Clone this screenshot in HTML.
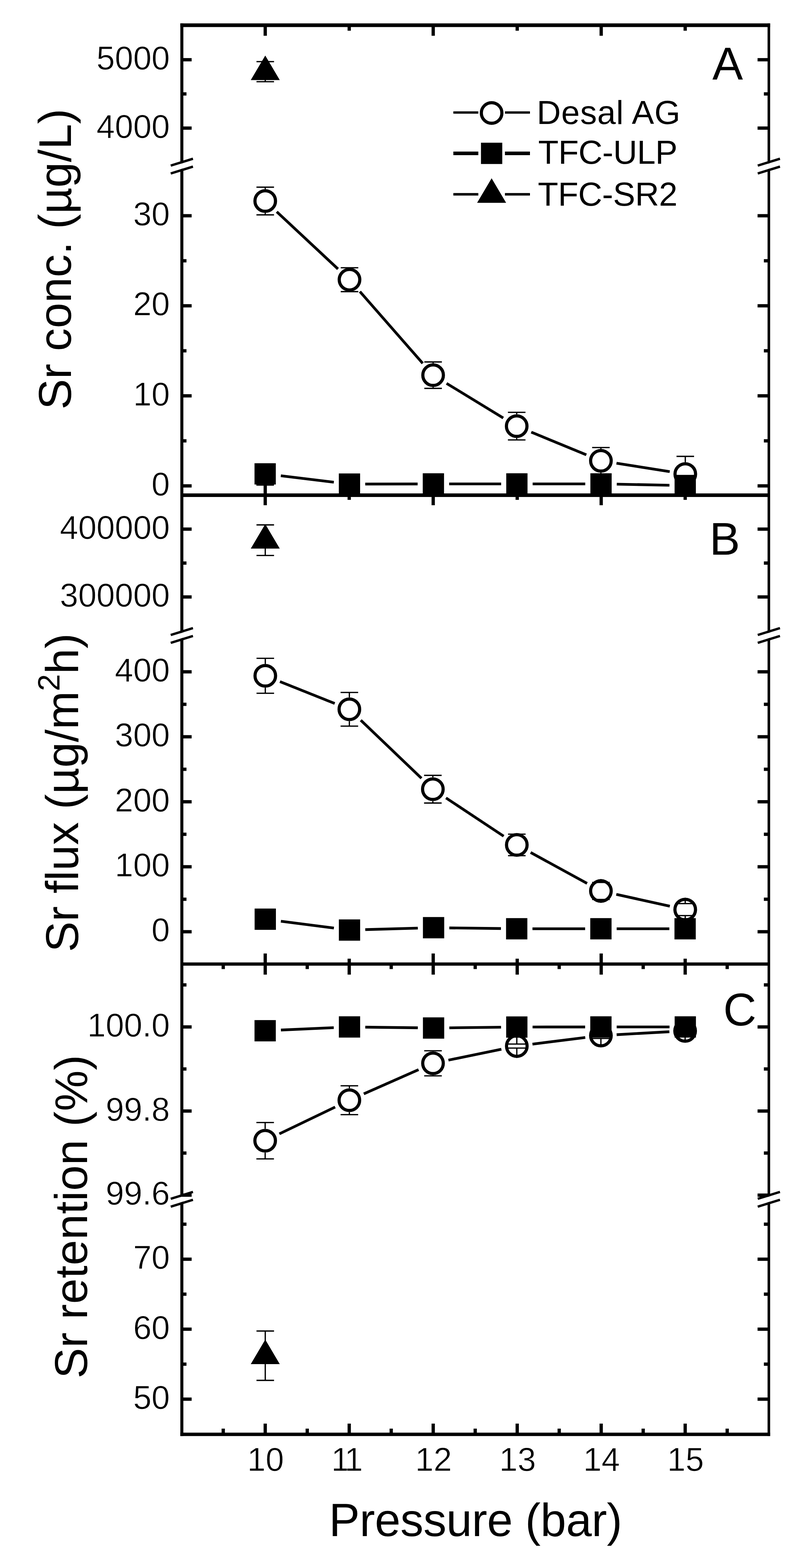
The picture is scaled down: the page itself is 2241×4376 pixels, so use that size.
<!DOCTYPE html>
<html><head><meta charset="utf-8"><title>Sr vs Pressure</title>
<style>html,body{margin:0;padding:0;background:#fff;} svg{display:block;}</style>
</head><body>
<svg width="2241" height="4376" viewBox="0 0 2241 4376">
<rect width="2241" height="4376" fill="#fff"/>
<g stroke="#000" fill="none" stroke-linecap="butt">
<line x1="507.5" y1="65.2" x2="507.5" y2="4007.7" stroke-width="8.4"/>
<line x1="2145.7" y1="65.2" x2="2145.7" y2="4007.7" stroke-width="7.2"/>
<line x1="503.3" y1="70.3" x2="2149.3" y2="70.3" stroke-width="10.2"/>
<line x1="507.5" y1="1382.0" x2="2145.7" y2="1382.0" stroke-width="10.0"/>
<line x1="507.5" y1="2690.5" x2="2145.7" y2="2690.5" stroke-width="9.2"/>
<line x1="503.3" y1="4003.0" x2="2149.3" y2="4003.0" stroke-width="9.4"/>
<line x1="507.5" y1="357.5" x2="534.8" y2="357.5" stroke-width="9.2"/>
<line x1="2145.7" y1="357.5" x2="2114.2" y2="357.5" stroke-width="9.2"/>
<line x1="507.5" y1="166.7" x2="534.8" y2="166.7" stroke-width="9.2"/>
<line x1="2145.7" y1="166.7" x2="2114.2" y2="166.7" stroke-width="9.2"/>
<line x1="507.5" y1="262.1" x2="520.4" y2="262.1" stroke-width="9.2"/>
<line x1="2145.7" y1="262.1" x2="2131.8" y2="262.1" stroke-width="9.2"/>
<line x1="507.5" y1="1356.0" x2="534.8" y2="1356.0" stroke-width="9.2"/>
<line x1="2145.7" y1="1356.0" x2="2114.2" y2="1356.0" stroke-width="9.2"/>
<line x1="507.5" y1="1104.7" x2="534.8" y2="1104.7" stroke-width="9.2"/>
<line x1="2145.7" y1="1104.7" x2="2114.2" y2="1104.7" stroke-width="9.2"/>
<line x1="507.5" y1="853.4" x2="534.8" y2="853.4" stroke-width="9.2"/>
<line x1="2145.7" y1="853.4" x2="2114.2" y2="853.4" stroke-width="9.2"/>
<line x1="507.5" y1="602.1" x2="534.8" y2="602.1" stroke-width="9.2"/>
<line x1="2145.7" y1="602.1" x2="2114.2" y2="602.1" stroke-width="9.2"/>
<line x1="507.5" y1="1230.3" x2="520.4" y2="1230.3" stroke-width="9.2"/>
<line x1="2145.7" y1="1230.3" x2="2131.8" y2="1230.3" stroke-width="9.2"/>
<line x1="507.5" y1="979.0" x2="520.4" y2="979.0" stroke-width="9.2"/>
<line x1="2145.7" y1="979.0" x2="2131.8" y2="979.0" stroke-width="9.2"/>
<line x1="507.5" y1="727.8" x2="520.4" y2="727.8" stroke-width="9.2"/>
<line x1="2145.7" y1="727.8" x2="2131.8" y2="727.8" stroke-width="9.2"/>
<line x1="507.5" y1="1666.0" x2="534.8" y2="1666.0" stroke-width="9.2"/>
<line x1="2145.7" y1="1666.0" x2="2114.2" y2="1666.0" stroke-width="9.2"/>
<line x1="507.5" y1="1476.7" x2="534.8" y2="1476.7" stroke-width="9.2"/>
<line x1="2145.7" y1="1476.7" x2="2114.2" y2="1476.7" stroke-width="9.2"/>
<line x1="507.5" y1="1571.4" x2="520.4" y2="1571.4" stroke-width="9.2"/>
<line x1="2145.7" y1="1571.4" x2="2131.8" y2="1571.4" stroke-width="9.2"/>
<line x1="507.5" y1="2600.3" x2="534.8" y2="2600.3" stroke-width="9.2"/>
<line x1="2145.7" y1="2600.3" x2="2114.2" y2="2600.3" stroke-width="9.2"/>
<line x1="507.5" y1="2419.0" x2="534.8" y2="2419.0" stroke-width="9.2"/>
<line x1="2145.7" y1="2419.0" x2="2114.2" y2="2419.0" stroke-width="9.2"/>
<line x1="507.5" y1="2237.6" x2="534.8" y2="2237.6" stroke-width="9.2"/>
<line x1="2145.7" y1="2237.6" x2="2114.2" y2="2237.6" stroke-width="9.2"/>
<line x1="507.5" y1="2056.2" x2="534.8" y2="2056.2" stroke-width="9.2"/>
<line x1="2145.7" y1="2056.2" x2="2114.2" y2="2056.2" stroke-width="9.2"/>
<line x1="507.5" y1="1874.9" x2="534.8" y2="1874.9" stroke-width="9.2"/>
<line x1="2145.7" y1="1874.9" x2="2114.2" y2="1874.9" stroke-width="9.2"/>
<line x1="507.5" y1="2509.6" x2="520.4" y2="2509.6" stroke-width="9.2"/>
<line x1="2145.7" y1="2509.6" x2="2131.8" y2="2509.6" stroke-width="9.2"/>
<line x1="507.5" y1="2328.3" x2="520.4" y2="2328.3" stroke-width="9.2"/>
<line x1="2145.7" y1="2328.3" x2="2131.8" y2="2328.3" stroke-width="9.2"/>
<line x1="507.5" y1="2146.9" x2="520.4" y2="2146.9" stroke-width="9.2"/>
<line x1="2145.7" y1="2146.9" x2="2131.8" y2="2146.9" stroke-width="9.2"/>
<line x1="507.5" y1="1965.6" x2="520.4" y2="1965.6" stroke-width="9.2"/>
<line x1="2145.7" y1="1965.6" x2="2131.8" y2="1965.6" stroke-width="9.2"/>
<line x1="507.5" y1="3100.7" x2="534.8" y2="3100.7" stroke-width="9.2"/>
<line x1="2145.7" y1="3100.7" x2="2114.2" y2="3100.7" stroke-width="9.2"/>
<line x1="507.5" y1="2866.0" x2="534.8" y2="2866.0" stroke-width="9.2"/>
<line x1="2145.7" y1="2866.0" x2="2114.2" y2="2866.0" stroke-width="9.2"/>
<line x1="507.5" y1="3218.0" x2="520.4" y2="3218.0" stroke-width="9.2"/>
<line x1="2145.7" y1="3218.0" x2="2131.8" y2="3218.0" stroke-width="9.2"/>
<line x1="507.5" y1="2983.3" x2="520.4" y2="2983.3" stroke-width="9.2"/>
<line x1="2145.7" y1="2983.3" x2="2131.8" y2="2983.3" stroke-width="9.2"/>
<line x1="507.5" y1="2748.7" x2="520.4" y2="2748.7" stroke-width="9.2"/>
<line x1="2145.7" y1="2748.7" x2="2131.8" y2="2748.7" stroke-width="9.2"/>
<line x1="507.5" y1="3904.8" x2="534.8" y2="3904.8" stroke-width="9.2"/>
<line x1="2145.7" y1="3904.8" x2="2114.2" y2="3904.8" stroke-width="9.2"/>
<line x1="507.5" y1="3709.5" x2="534.8" y2="3709.5" stroke-width="9.2"/>
<line x1="2145.7" y1="3709.5" x2="2114.2" y2="3709.5" stroke-width="9.2"/>
<line x1="507.5" y1="3514.2" x2="534.8" y2="3514.2" stroke-width="9.2"/>
<line x1="2145.7" y1="3514.2" x2="2114.2" y2="3514.2" stroke-width="9.2"/>
<line x1="507.5" y1="3807.1" x2="520.4" y2="3807.1" stroke-width="9.2"/>
<line x1="2145.7" y1="3807.1" x2="2131.8" y2="3807.1" stroke-width="9.2"/>
<line x1="507.5" y1="3611.8" x2="520.4" y2="3611.8" stroke-width="9.2"/>
<line x1="2145.7" y1="3611.8" x2="2131.8" y2="3611.8" stroke-width="9.2"/>
<line x1="507.5" y1="3416.5" x2="520.4" y2="3416.5" stroke-width="9.2"/>
<line x1="2145.7" y1="3416.5" x2="2131.8" y2="3416.5" stroke-width="9.2"/>
<line x1="740.2" y1="70.3" x2="740.2" y2="99.8" stroke-width="9.2"/>
<line x1="1209.0" y1="70.3" x2="1209.0" y2="99.8" stroke-width="9.2"/>
<line x1="1677.8" y1="70.3" x2="1677.8" y2="99.8" stroke-width="9.2"/>
<line x1="974.6" y1="70.3" x2="974.6" y2="85.7" stroke-width="9.2"/>
<line x1="1443.4" y1="70.3" x2="1443.4" y2="85.7" stroke-width="9.2"/>
<line x1="1912.2" y1="70.3" x2="1912.2" y2="85.7" stroke-width="9.2"/>
<line x1="740.2" y1="1354.0" x2="740.2" y2="1410.0" stroke-width="9.2"/>
<line x1="1209.0" y1="1354.0" x2="1209.0" y2="1410.0" stroke-width="9.2"/>
<line x1="1677.8" y1="1354.0" x2="1677.8" y2="1410.0" stroke-width="9.2"/>
<line x1="974.6" y1="1382.0" x2="974.6" y2="1395.0" stroke-width="9.2"/>
<line x1="1443.4" y1="1382.0" x2="1443.4" y2="1395.0" stroke-width="9.2"/>
<line x1="1912.2" y1="1382.0" x2="1912.2" y2="1395.0" stroke-width="9.2"/>
<line x1="740.2" y1="2690.5" x2="740.2" y2="2661.0" stroke-width="9.2"/>
<line x1="1209.0" y1="2690.5" x2="1209.0" y2="2661.0" stroke-width="9.2"/>
<line x1="1677.8" y1="2690.5" x2="1677.8" y2="2661.0" stroke-width="9.2"/>
<line x1="974.6" y1="2690.5" x2="974.6" y2="2675.5" stroke-width="9.2"/>
<line x1="1443.4" y1="2690.5" x2="1443.4" y2="2675.5" stroke-width="9.2"/>
<line x1="1912.2" y1="2690.5" x2="1912.2" y2="2675.5" stroke-width="9.2"/>
<line x1="740.2" y1="2690.5" x2="740.2" y2="2720.0" stroke-width="9.2"/>
<line x1="974.6" y1="2690.5" x2="974.6" y2="2720.0" stroke-width="9.2"/>
<line x1="1209.0" y1="2690.5" x2="1209.0" y2="2720.0" stroke-width="9.2"/>
<line x1="1443.4" y1="2690.5" x2="1443.4" y2="2720.0" stroke-width="9.2"/>
<line x1="1677.8" y1="2690.5" x2="1677.8" y2="2720.0" stroke-width="9.2"/>
<line x1="1912.2" y1="2690.5" x2="1912.2" y2="2720.0" stroke-width="9.2"/>
<line x1="623.0" y1="2690.5" x2="623.0" y2="2704.5" stroke-width="9.2"/>
<line x1="857.4" y1="2690.5" x2="857.4" y2="2704.5" stroke-width="9.2"/>
<line x1="1091.8" y1="2690.5" x2="1091.8" y2="2704.5" stroke-width="9.2"/>
<line x1="1326.2" y1="2690.5" x2="1326.2" y2="2704.5" stroke-width="9.2"/>
<line x1="1560.6" y1="2690.5" x2="1560.6" y2="2704.5" stroke-width="9.2"/>
<line x1="1795.0" y1="2690.5" x2="1795.0" y2="2704.5" stroke-width="9.2"/>
<line x1="2029.4" y1="2690.5" x2="2029.4" y2="2704.5" stroke-width="9.2"/>
<line x1="740.2" y1="4003.0" x2="740.2" y2="3973.0" stroke-width="9.2"/>
<line x1="974.6" y1="4003.0" x2="974.6" y2="3973.0" stroke-width="9.2"/>
<line x1="1209.0" y1="4003.0" x2="1209.0" y2="3973.0" stroke-width="9.2"/>
<line x1="1443.4" y1="4003.0" x2="1443.4" y2="3973.0" stroke-width="9.2"/>
<line x1="1677.8" y1="4003.0" x2="1677.8" y2="3973.0" stroke-width="9.2"/>
<line x1="1912.2" y1="4003.0" x2="1912.2" y2="3973.0" stroke-width="9.2"/>
<line x1="623.0" y1="4003.0" x2="623.0" y2="3987.0" stroke-width="9.2"/>
<line x1="857.4" y1="4003.0" x2="857.4" y2="3987.0" stroke-width="9.2"/>
<line x1="1091.8" y1="4003.0" x2="1091.8" y2="3987.0" stroke-width="9.2"/>
<line x1="1326.2" y1="4003.0" x2="1326.2" y2="3987.0" stroke-width="9.2"/>
<line x1="1560.6" y1="4003.0" x2="1560.6" y2="3987.0" stroke-width="9.2"/>
<line x1="1795.0" y1="4003.0" x2="1795.0" y2="3987.0" stroke-width="9.2"/>
<line x1="2029.4" y1="4003.0" x2="2029.4" y2="3987.0" stroke-width="9.2"/>
</g>
<g stroke="#000">
<polygon fill="#fff" stroke="none" points="480.5,464.5 534.5,447.7 534.5,462.7 480.5,479.5"/>
<line x1="476.5" y1="462.2" x2="538.5" y2="443.0" stroke="#000" stroke-width="6.6"/>
<line x1="476.5" y1="484.2" x2="538.5" y2="465.0" stroke="#000" stroke-width="6.6"/>
<polygon fill="#fff" stroke="none" points="2118.7,464.5 2172.7,447.7 2172.7,462.7 2118.7,479.5"/>
<line x1="2114.7" y1="462.2" x2="2176.7" y2="443.0" stroke="#000" stroke-width="6.6"/>
<line x1="2114.7" y1="484.2" x2="2176.7" y2="465.0" stroke="#000" stroke-width="6.6"/>
<polygon fill="#fff" stroke="none" points="480.5,1774.4 534.5,1757.6 534.5,1772.6 480.5,1789.4"/>
<line x1="476.5" y1="1772.1" x2="538.5" y2="1752.9" stroke="#000" stroke-width="6.6"/>
<line x1="476.5" y1="1794.1" x2="538.5" y2="1774.9" stroke="#000" stroke-width="6.6"/>
<polygon fill="#fff" stroke="none" points="2118.7,1774.4 2172.7,1757.6 2172.7,1772.6 2118.7,1789.4"/>
<line x1="2114.7" y1="1772.1" x2="2176.7" y2="1752.9" stroke="#000" stroke-width="6.6"/>
<line x1="2114.7" y1="1794.1" x2="2176.7" y2="1774.9" stroke="#000" stroke-width="6.6"/>
<polygon fill="#fff" stroke="none" points="480.5,3347.9 534.5,3331.1 534.5,3346.1 480.5,3362.9"/>
<line x1="476.5" y1="3345.6" x2="538.5" y2="3326.4" stroke="#000" stroke-width="6.6"/>
<line x1="476.5" y1="3367.6" x2="538.5" y2="3348.4" stroke="#000" stroke-width="6.6"/>
<polygon fill="#fff" stroke="none" points="2118.7,3347.9 2172.7,3331.1 2172.7,3346.1 2118.7,3362.9"/>
<line x1="2114.7" y1="3345.6" x2="2176.7" y2="3326.4" stroke="#000" stroke-width="6.6"/>
<line x1="2114.7" y1="3367.6" x2="2176.7" y2="3348.4" stroke="#000" stroke-width="6.6"/>
</g>
<g stroke="#000" stroke-width="9.2">
<line x1="507.5" y1="3335.4" x2="534.8" y2="3335.4"/>
<line x1="2145.7" y1="3335.4" x2="2114.2" y2="3335.4"/>
</g>
<g stroke="#000" fill="none">
<line x1="772.4" y1="591.0" x2="943.2" y2="750.6" stroke-width="7.6"/>
<line x1="1004.4" y1="813.7" x2="1179.7" y2="1013.9" stroke-width="7.6"/>
<line x1="1246.3" y1="1069.9" x2="1404.4" y2="1166.4" stroke-width="7.6"/>
<line x1="1482.7" y1="1206.0" x2="1636.3" y2="1269.3" stroke-width="7.6"/>
<line x1="1720.5" y1="1292.8" x2="1869.0" y2="1316.2" stroke-width="7.6"/>
<line x1="783.7" y1="1327.8" x2="931.6" y2="1345.7" stroke-width="7.6"/>
<line x1="1019.3" y1="1350.9" x2="1165.5" y2="1350.6" stroke-width="7.6"/>
<line x1="1253.5" y1="1350.5" x2="1398.5" y2="1350.5" stroke-width="7.6"/>
<line x1="1486.5" y1="1350.5" x2="1633.3" y2="1350.5" stroke-width="7.6"/>
<line x1="1721.3" y1="1351.3" x2="1868.3" y2="1354.2" stroke-width="7.6"/>
<line x1="781.3" y1="1902.3" x2="934.1" y2="1963.2" stroke-width="7.6"/>
<line x1="1006.8" y1="2009.9" x2="1176.2" y2="2172.1" stroke-width="7.6"/>
<line x1="1244.7" y1="2226.8" x2="1405.6" y2="2333.7" stroke-width="7.6"/>
<line x1="1480.9" y1="2379.1" x2="1638.4" y2="2465.4" stroke-width="7.6"/>
<line x1="1720.0" y1="2496.0" x2="1869.3" y2="2529.0" stroke-width="7.6"/>
<line x1="783.9" y1="2570.9" x2="931.8" y2="2590.0" stroke-width="7.6"/>
<line x1="1019.4" y1="2594.4" x2="1166.0" y2="2590.2" stroke-width="7.6"/>
<line x1="1254.0" y1="2589.6" x2="1398.0" y2="2591.4" stroke-width="7.6"/>
<line x1="1486.0" y1="2592.0" x2="1633.0" y2="2592.0" stroke-width="7.6"/>
<line x1="1721.0" y1="2592.0" x2="1868.0" y2="2592.0" stroke-width="7.6"/>
<line x1="779.7" y1="3164.4" x2="935.3" y2="3089.6" stroke-width="7.6"/>
<line x1="1015.3" y1="3052.7" x2="1168.1" y2="2985.3" stroke-width="7.6"/>
<line x1="1251.5" y1="2958.6" x2="1399.2" y2="2928.3" stroke-width="7.6"/>
<line x1="1486.0" y1="2913.9" x2="1633.3" y2="2895.5" stroke-width="7.6"/>
<line x1="1720.9" y1="2887.6" x2="1868.1" y2="2879.4" stroke-width="7.6"/>
<line x1="784.0" y1="2874.6" x2="931.4" y2="2868.0" stroke-width="7.6"/>
<line x1="1019.4" y1="2866.6" x2="1166.0" y2="2868.4" stroke-width="7.6"/>
<line x1="1254.0" y1="2868.5" x2="1398.3" y2="2866.8" stroke-width="7.6"/>
<line x1="1486.3" y1="2866.2" x2="1633.0" y2="2866.1" stroke-width="7.6"/>
<line x1="1721.0" y1="2866.0" x2="1868.5" y2="2866.0" stroke-width="7.6"/>
<circle cx="740.2" cy="561.0" r="28.7" fill="#fff" stroke-width="8.8"/>
<line x1="740.2" y1="527.9" x2="740.2" y2="522.4" stroke-width="3.6"/>
<line x1="715.7" y1="522.4" x2="764.7" y2="522.4" stroke-width="3.6"/>
<line x1="740.2" y1="594.1" x2="740.2" y2="599.6" stroke-width="3.6"/>
<line x1="715.7" y1="599.6" x2="764.7" y2="599.6" stroke-width="3.6"/>
<circle cx="975.4" cy="780.6" r="28.7" fill="#fff" stroke-width="8.8"/>
<line x1="975.4" y1="747.5" x2="975.4" y2="747.3" stroke-width="3.6"/>
<line x1="950.9" y1="747.3" x2="999.9" y2="747.3" stroke-width="3.6"/>
<line x1="975.4" y1="813.7" x2="975.4" y2="813.9" stroke-width="3.6"/>
<line x1="950.9" y1="813.9" x2="999.9" y2="813.9" stroke-width="3.6"/>
<circle cx="1208.7" cy="1047.0" r="28.7" fill="#fff" stroke-width="8.8"/>
<line x1="1208.7" y1="1013.9" x2="1208.7" y2="1010.1" stroke-width="3.6"/>
<line x1="1184.2" y1="1010.1" x2="1233.2" y2="1010.1" stroke-width="3.6"/>
<line x1="1208.7" y1="1080.1" x2="1208.7" y2="1083.9" stroke-width="3.6"/>
<line x1="1184.2" y1="1083.9" x2="1233.2" y2="1083.9" stroke-width="3.6"/>
<circle cx="1442.0" cy="1189.3" r="28.7" fill="#fff" stroke-width="8.8"/>
<line x1="1442.0" y1="1156.2" x2="1442.0" y2="1150.8" stroke-width="3.6"/>
<line x1="1417.5" y1="1150.8" x2="1466.5" y2="1150.8" stroke-width="3.6"/>
<line x1="1442.0" y1="1222.4" x2="1442.0" y2="1227.8" stroke-width="3.6"/>
<line x1="1417.5" y1="1227.8" x2="1466.5" y2="1227.8" stroke-width="3.6"/>
<circle cx="1677.0" cy="1286.0" r="28.7" fill="#fff" stroke-width="8.8"/>
<line x1="1677.0" y1="1252.9" x2="1677.0" y2="1249.0" stroke-width="3.6"/>
<line x1="1652.5" y1="1249.0" x2="1701.5" y2="1249.0" stroke-width="3.6"/>
<line x1="1677.0" y1="1319.1" x2="1677.0" y2="1323.0" stroke-width="3.6"/>
<line x1="1652.5" y1="1323.0" x2="1701.5" y2="1323.0" stroke-width="3.6"/>
<circle cx="1912.5" cy="1323.0" r="28.7" fill="#fff" stroke-width="8.8"/>
<line x1="1912.5" y1="1289.9" x2="1912.5" y2="1273.6" stroke-width="3.6"/>
<line x1="1888.0" y1="1273.6" x2="1937.0" y2="1273.6" stroke-width="3.6"/>
<line x1="1912.5" y1="1356.1" x2="1912.5" y2="1372.4" stroke-width="3.6"/>
<line x1="1888.0" y1="1372.4" x2="1937.0" y2="1372.4" stroke-width="3.6"/>
<circle cx="740.4" cy="1886.0" r="28.7" fill="#fff" stroke-width="8.8"/>
<line x1="740.4" y1="1852.9" x2="740.4" y2="1837.2" stroke-width="3.6"/>
<line x1="715.9" y1="1837.2" x2="764.9" y2="1837.2" stroke-width="3.6"/>
<line x1="740.4" y1="1919.1" x2="740.4" y2="1934.8" stroke-width="3.6"/>
<line x1="715.9" y1="1934.8" x2="764.9" y2="1934.8" stroke-width="3.6"/>
<circle cx="975.0" cy="1979.5" r="28.7" fill="#fff" stroke-width="8.8"/>
<line x1="975.0" y1="1946.4" x2="975.0" y2="1932.5" stroke-width="3.6"/>
<line x1="950.5" y1="1932.5" x2="999.5" y2="1932.5" stroke-width="3.6"/>
<line x1="975.0" y1="2012.6" x2="975.0" y2="2026.5" stroke-width="3.6"/>
<line x1="950.5" y1="2026.5" x2="999.5" y2="2026.5" stroke-width="3.6"/>
<circle cx="1208.0" cy="2202.5" r="28.7" fill="#fff" stroke-width="8.8"/>
<line x1="1208.0" y1="2169.4" x2="1208.0" y2="2163.9" stroke-width="3.6"/>
<line x1="1183.5" y1="2163.9" x2="1232.5" y2="2163.9" stroke-width="3.6"/>
<line x1="1208.0" y1="2235.6" x2="1208.0" y2="2241.1" stroke-width="3.6"/>
<line x1="1183.5" y1="2241.1" x2="1232.5" y2="2241.1" stroke-width="3.6"/>
<circle cx="1442.3" cy="2358.0" r="28.7" fill="#fff" stroke-width="8.8"/>
<line x1="1442.3" y1="2324.9" x2="1442.3" y2="2328.0" stroke-width="3.6"/>
<line x1="1417.8" y1="2328.0" x2="1466.8" y2="2328.0" stroke-width="3.6"/>
<line x1="1442.3" y1="2391.1" x2="1442.3" y2="2388.0" stroke-width="3.6"/>
<line x1="1417.8" y1="2388.0" x2="1466.8" y2="2388.0" stroke-width="3.6"/>
<circle cx="1677.0" cy="2486.5" r="28.7" fill="#fff" stroke-width="8.8"/>
<line x1="1677.0" y1="2453.4" x2="1677.0" y2="2462.7" stroke-width="3.6"/>
<line x1="1652.5" y1="2462.7" x2="1701.5" y2="2462.7" stroke-width="3.6"/>
<line x1="1677.0" y1="2519.6" x2="1677.0" y2="2510.3" stroke-width="3.6"/>
<line x1="1652.5" y1="2510.3" x2="1701.5" y2="2510.3" stroke-width="3.6"/>
<circle cx="1912.3" cy="2538.5" r="28.7" fill="#fff" stroke-width="8.8"/>
<line x1="1912.3" y1="2505.4" x2="1912.3" y2="2521.8" stroke-width="3.6"/>
<line x1="1887.8" y1="2521.8" x2="1936.8" y2="2521.8" stroke-width="3.6"/>
<line x1="1912.3" y1="2571.6" x2="1912.3" y2="2555.2" stroke-width="3.6"/>
<line x1="1887.8" y1="2555.2" x2="1936.8" y2="2555.2" stroke-width="3.6"/>
<circle cx="740.0" cy="3183.5" r="28.7" fill="#fff" stroke-width="8.8"/>
<line x1="740.0" y1="3150.4" x2="740.0" y2="3132.7" stroke-width="3.6"/>
<line x1="715.5" y1="3132.7" x2="764.5" y2="3132.7" stroke-width="3.6"/>
<line x1="740.0" y1="3216.6" x2="740.0" y2="3234.3" stroke-width="3.6"/>
<line x1="715.5" y1="3234.3" x2="764.5" y2="3234.3" stroke-width="3.6"/>
<circle cx="975.0" cy="3070.5" r="28.7" fill="#fff" stroke-width="8.8"/>
<line x1="975.0" y1="3037.4" x2="975.0" y2="3030.3" stroke-width="3.6"/>
<line x1="950.5" y1="3030.3" x2="999.5" y2="3030.3" stroke-width="3.6"/>
<line x1="975.0" y1="3103.6" x2="975.0" y2="3110.7" stroke-width="3.6"/>
<line x1="950.5" y1="3110.7" x2="999.5" y2="3110.7" stroke-width="3.6"/>
<circle cx="1208.4" cy="2967.5" r="28.7" fill="#fff" stroke-width="8.8"/>
<line x1="1208.4" y1="2934.4" x2="1208.4" y2="2932.5" stroke-width="3.6"/>
<line x1="1183.9" y1="2932.5" x2="1232.9" y2="2932.5" stroke-width="3.6"/>
<line x1="1208.4" y1="3000.6" x2="1208.4" y2="3002.5" stroke-width="3.6"/>
<line x1="1183.9" y1="3002.5" x2="1232.9" y2="3002.5" stroke-width="3.6"/>
<circle cx="1442.3" cy="2919.4" r="28.7" fill="#fff" stroke-width="8.8"/>
<line x1="1442.3" y1="2886.3" x2="1442.3" y2="2913.8" stroke-width="3.6"/>
<line x1="1417.8" y1="2913.8" x2="1466.8" y2="2913.8" stroke-width="3.6"/>
<line x1="1442.3" y1="2952.5" x2="1442.3" y2="2925.0" stroke-width="3.6"/>
<line x1="1417.8" y1="2925.0" x2="1466.8" y2="2925.0" stroke-width="3.6"/>
<circle cx="1677.0" cy="2890.0" r="28.7" fill="#fff" stroke-width="8.8"/>
<line x1="1677.0" y1="2856.9" x2="1677.0" y2="2882.0" stroke-width="3.6"/>
<line x1="1652.5" y1="2882.0" x2="1701.5" y2="2882.0" stroke-width="3.6"/>
<line x1="1677.0" y1="2923.1" x2="1677.0" y2="2898.0" stroke-width="3.6"/>
<line x1="1652.5" y1="2898.0" x2="1701.5" y2="2898.0" stroke-width="3.6"/>
<circle cx="1912.0" cy="2877.0" r="28.7" fill="#fff" stroke-width="8.8"/>
<line x1="1912.0" y1="2843.9" x2="1912.0" y2="2865.0" stroke-width="3.6"/>
<line x1="1887.5" y1="2865.0" x2="1936.5" y2="2865.0" stroke-width="3.6"/>
<line x1="1912.0" y1="2910.1" x2="1912.0" y2="2889.0" stroke-width="3.6"/>
<line x1="1887.5" y1="2889.0" x2="1936.5" y2="2889.0" stroke-width="3.6"/>
<line x1="740.0" y1="1352.2" x2="740.0" y2="1353.8" stroke-width="3.6"/>
<line x1="715.5" y1="1353.8" x2="764.5" y2="1353.8" stroke-width="3.6"/>
<rect x="710.3" y="1292.8" width="59.4" height="59.4" fill="#000" stroke="none"/>
<rect x="945.6" y="1321.3" width="59.4" height="59.4" fill="#000" stroke="none"/>
<rect x="1179.8" y="1320.8" width="59.4" height="59.4" fill="#000" stroke="none"/>
<rect x="1412.8" y="1320.8" width="59.4" height="59.4" fill="#000" stroke="none"/>
<rect x="1647.6" y="1320.8" width="59.4" height="59.4" fill="#000" stroke="none"/>
<rect x="1882.6" y="1325.3" width="59.4" height="59.4" fill="#000" stroke="none"/>
<rect x="710.6" y="2535.6" width="59.4" height="59.4" fill="#000" stroke="none"/>
<rect x="945.7" y="2565.9" width="59.4" height="59.4" fill="#000" stroke="none"/>
<rect x="1180.3" y="2559.3" width="59.4" height="59.4" fill="#000" stroke="none"/>
<rect x="1412.3" y="2562.3" width="59.4" height="59.4" fill="#000" stroke="none"/>
<rect x="1647.3" y="2562.3" width="59.4" height="59.4" fill="#000" stroke="none"/>
<rect x="1882.3" y="2562.3" width="59.4" height="59.4" fill="#000" stroke="none"/>
<rect x="710.3" y="2846.9" width="59.4" height="59.4" fill="#000" stroke="none"/>
<rect x="945.7" y="2836.3" width="59.4" height="59.4" fill="#000" stroke="none"/>
<rect x="1180.3" y="2839.3" width="59.4" height="59.4" fill="#000" stroke="none"/>
<rect x="1412.6" y="2836.6" width="59.4" height="59.4" fill="#000" stroke="none"/>
<rect x="1647.3" y="2836.3" width="59.4" height="59.4" fill="#000" stroke="none"/>
<rect x="1882.8" y="2836.3" width="59.4" height="59.4" fill="#000" stroke="none"/>
<line x1="740.3" y1="178.0" x2="740.3" y2="172.0" stroke-width="3.6"/>
<line x1="715.8" y1="172.0" x2="764.8" y2="172.0" stroke-width="3.6"/>
<line x1="740.3" y1="222.0" x2="740.3" y2="228.0" stroke-width="3.6"/>
<line x1="715.8" y1="228.0" x2="764.8" y2="228.0" stroke-width="3.6"/>
<polygon fill="#000" stroke="none" points="740.3,155.0 780.8,223.5 699.8,223.5"/>
<line x1="740.3" y1="1485.6" x2="740.3" y2="1464.9" stroke-width="3.6"/>
<line x1="715.8" y1="1464.9" x2="764.8" y2="1464.9" stroke-width="3.6"/>
<line x1="740.3" y1="1529.6" x2="740.3" y2="1550.3" stroke-width="3.6"/>
<line x1="715.8" y1="1550.3" x2="764.8" y2="1550.3" stroke-width="3.6"/>
<polygon fill="#000" stroke="none" points="740.3,1462.6 780.8,1531.1 699.8,1531.1"/>
<line x1="740.3" y1="3761.5" x2="740.3" y2="3714.6" stroke-width="3.6"/>
<line x1="715.8" y1="3714.6" x2="764.8" y2="3714.6" stroke-width="3.6"/>
<line x1="740.3" y1="3805.5" x2="740.3" y2="3852.4" stroke-width="3.6"/>
<line x1="715.8" y1="3852.4" x2="764.8" y2="3852.4" stroke-width="3.6"/>
<polygon fill="#000" stroke="none" points="740.3,3738.5 780.8,3807.0 699.8,3807.0"/>
<line x1="1265.2" y1="314.0" x2="1334.9" y2="314.0" stroke-width="6.6"/>
<line x1="1409.2" y1="314.0" x2="1479.0" y2="314.0" stroke-width="6.6"/>
<line x1="1265.2" y1="428.0" x2="1334.9" y2="428.0" stroke-width="10.0"/>
<line x1="1409.2" y1="428.0" x2="1479.0" y2="428.0" stroke-width="10.0"/>
<line x1="1265.2" y1="542.3" x2="1334.9" y2="542.3" stroke-width="7.0"/>
<line x1="1409.2" y1="542.3" x2="1479.0" y2="542.3" stroke-width="7.0"/>
<circle cx="1372.0" cy="315.3" r="28.7" fill="#fff" stroke-width="8.8"/>
<rect x="1342.3" y="398.3" width="59.4" height="59.4" fill="#000" stroke="none"/>
<polygon fill="#000" stroke="none" points="1372.0,497.6 1412.5,566.1 1331.5,566.1"/>
</g>
<g font-family="'Liberation Sans', Arial, sans-serif" fill="#000">
<text x="474.0" y="193.7" font-size="92" text-anchor="end" stroke="#fff" stroke-width="1.0">5000</text>
<text x="474.0" y="384.5" font-size="92" text-anchor="end" stroke="#fff" stroke-width="1.0">4000</text>
<text x="474.0" y="1383.0" font-size="92" text-anchor="end" stroke="#fff" stroke-width="1.0">0</text>
<text x="474.0" y="1131.7" font-size="92" text-anchor="end" stroke="#fff" stroke-width="1.0">10</text>
<text x="474.0" y="880.4" font-size="92" text-anchor="end" stroke="#fff" stroke-width="1.0">20</text>
<text x="474.0" y="629.1" font-size="92" text-anchor="end" stroke="#fff" stroke-width="1.0">30</text>
<text x="474.0" y="1503.7" font-size="92" text-anchor="end" stroke="#fff" stroke-width="1.0">400000</text>
<text x="474.0" y="1693.0" font-size="92" text-anchor="end" stroke="#fff" stroke-width="1.0">300000</text>
<text x="474.0" y="2627.3" font-size="92" text-anchor="end" stroke="#fff" stroke-width="1.0">0</text>
<text x="474.0" y="2446.0" font-size="92" text-anchor="end" stroke="#fff" stroke-width="1.0">100</text>
<text x="474.0" y="2264.6" font-size="92" text-anchor="end" stroke="#fff" stroke-width="1.0">200</text>
<text x="474.0" y="2083.2" font-size="92" text-anchor="end" stroke="#fff" stroke-width="1.0">300</text>
<text x="474.0" y="1901.9" font-size="92" text-anchor="end" stroke="#fff" stroke-width="1.0">400</text>
<text x="474.0" y="3362.4" font-size="92" text-anchor="end" stroke="#fff" stroke-width="1.0">99.6</text>
<text x="474.0" y="3127.7" font-size="92" text-anchor="end" stroke="#fff" stroke-width="1.0">99.8</text>
<text x="474.0" y="2893.0" font-size="92" text-anchor="end" stroke="#fff" stroke-width="1.0">100.0</text>
<text x="474.0" y="3931.8" font-size="92" text-anchor="end" stroke="#fff" stroke-width="1.0">50</text>
<text x="474.0" y="3736.5" font-size="92" text-anchor="end" stroke="#fff" stroke-width="1.0">60</text>
<text x="474.0" y="3541.2" font-size="92" text-anchor="end" stroke="#fff" stroke-width="1.0">70</text>
<text x="741.2" y="4105.0" font-size="92" text-anchor="middle" stroke="#fff" stroke-width="1.0">10</text>
<text x="968.6" y="4105.0" font-size="92" text-anchor="middle" textLength="88.3" stroke="#fff" stroke-width="1.0">11</text>
<text x="1210.0" y="4105.0" font-size="92" text-anchor="middle" stroke="#fff" stroke-width="1.0">12</text>
<text x="1444.4" y="4105.0" font-size="92" text-anchor="middle" stroke="#fff" stroke-width="1.0">13</text>
<text x="1678.8" y="4105.0" font-size="92" text-anchor="middle" stroke="#fff" stroke-width="1.0">14</text>
<text x="1913.2" y="4105.0" font-size="92" text-anchor="middle" stroke="#fff" stroke-width="1.0">15</text>
<text x="1327.2" y="4287.0" font-size="129" text-anchor="middle" textLength="818.4">Pressure (bar)</text>
<text x="1988.0" y="222.0" font-size="128" text-anchor="start">A</text>
<text x="1980.0" y="1548.4" font-size="128" text-anchor="start">B</text>
<text x="2018.5" y="2862.0" font-size="128" text-anchor="start">C</text>
<text x="1498.0" y="345.5" font-size="93" text-anchor="start" textLength="400.7">Desal AG</text>
<text x="1502.0" y="457.2" font-size="93" text-anchor="start" textLength="388.8">TFC-ULP</text>
<text x="1501.0" y="574.0" font-size="93" text-anchor="start" textLength="389.7">TFC-SR2</text>
<text transform="rotate(-90)" x="-1143.0" y="198.0" font-size="128" textLength="839.6">Sr conc. (µg/L)</text>
<text transform="rotate(-90)" x="-2657.0" y="217.5" font-size="128">Sr flux (µg/m<tspan font-size="86" dy="-52">2</tspan><tspan dy="52">h)</tspan></text>
<text transform="rotate(-90)" x="-3847.0" y="243.0" font-size="128" textLength="902.8">Sr retention (%)</text>
</g>
</svg>
</body></html>
